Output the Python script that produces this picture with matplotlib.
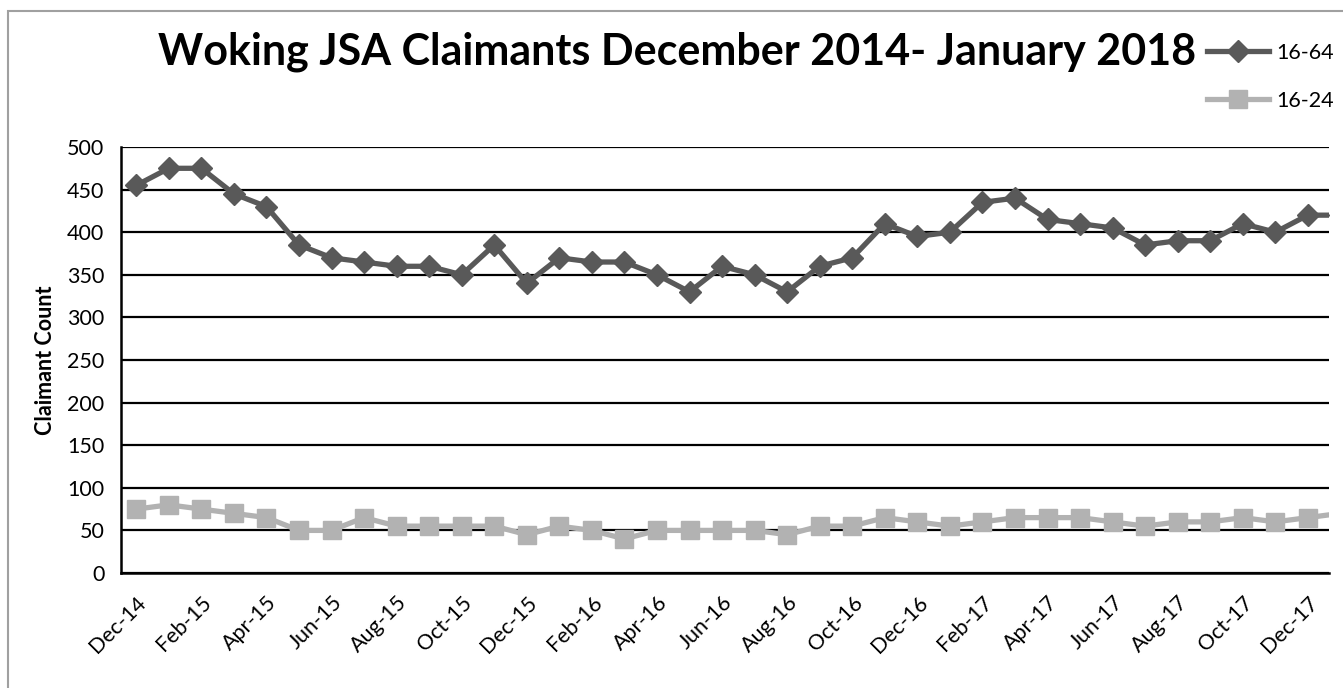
import matplotlib
matplotlib.use('Agg')
import matplotlib.pyplot as plt
from matplotlib.patches import Rectangle
from matplotlib.lines import Line2D

plt.rcParams['font.family'] = ['Lato', 'DejaVu Sans']

# months Dec-14 .. Jan-18
months = ['Dec-14', 'Jan-15', 'Feb-15', 'Mar-15', 'Apr-15', 'May-15', 'Jun-15', 'Jul-15',
          'Aug-15', 'Sep-15', 'Oct-15', 'Nov-15', 'Dec-15', 'Jan-16', 'Feb-16', 'Mar-16',
          'Apr-16', 'May-16', 'Jun-16', 'Jul-16', 'Aug-16', 'Sep-16', 'Oct-16', 'Nov-16',
          'Dec-16', 'Jan-17', 'Feb-17', 'Mar-17', 'Apr-17', 'May-17', 'Jun-17', 'Jul-17',
          'Aug-17', 'Sep-17', 'Oct-17', 'Nov-17', 'Dec-17', 'Jan-18']

age_16_64 = [455, 475, 475, 445, 430, 385, 370, 365, 360, 360, 350, 385, 340, 370, 365, 365,
             350, 330, 360, 350, 330, 360, 370, 410, 395, 400, 435, 440, 415, 410, 405, 385,
             390, 390, 410, 400, 420, 420]
age_16_24 = [75, 80, 75, 70, 65, 50, 50, 65, 55, 55, 55, 55, 45, 55, 50, 40,
             50, 50, 50, 50, 45, 55, 55, 65, 60, 55, 60, 65, 65, 65, 60, 55,
             60, 60, 65, 60, 65, 70]

W, H = 1343, 688
fig = plt.figure(figsize=(W / 100, H / 100), dpi=100)

# outer chart frame (cropped on the right and bottom)
fig.patches.append(Rectangle((8 / W, -0.1), 1.2, (H - 11) / H + 0.1, transform=fig.transFigure,
                             fill=False, edgecolor='#a0a0a0', linewidth=1.5))

ax = fig.add_axes([121 / W, (H - 573) / H, (1329 - 121) / W, (573 - 147) / H])

x = list(range(len(months)))
ax.plot(x, age_16_64, color='#595959', linewidth=3.8, marker='D', markersize=11, label='16-64')
ax.plot(x, age_16_24, color='#b2b2b2', linewidth=3.8, marker='s', markersize=13, label='16-24')

ax.set_ylim(0, 500)
ax.set_xlim(-0.47, 36.65)
ax.set_yticks(range(0, 501, 50))
ax.yaxis.grid(True, color='black', linewidth=1.6)
ax.set_axisbelow(True)
ax.set_xticks(x[::2])
ax.set_xticklabels(months[::2], rotation=45, ha='right', rotation_mode='anchor', fontsize=15.5)
ax.tick_params(axis='y', labelsize=15.5, length=0, pad=12)
ax.tick_params(axis='x', length=0, pad=14)
for s in ['top', 'right']:
    ax.spines[s].set_visible(False)
ax.spines['left'].set_linewidth(1.8)
ax.spines['bottom'].set_linewidth(1.8)

ax.set_ylabel('Claimant Count', fontsize=15.5, fontweight='bold', labelpad=8)

fig.text(677 / W, 1 - 52 / H, 'Woking JSA Claimants December 2014- January 2018',
         fontsize=31, fontweight='bold', ha='center', va='center')

handles = [Line2D([], [], color='#595959', linewidth=3.8, marker='D', markersize=11),
           Line2D([], [], color='#b2b2b2', linewidth=3.8, marker='s', markersize=13)]
fig.legend(handles, ['16-64', '16-24'], loc='upper left', bbox_to_anchor=(1196 / W, 1 - 32 / H),
           frameon=False, fontsize=15.5, handlelength=2.9, handletextpad=0.35, labelspacing=1.3,
           borderpad=0)

fig.savefig('out.png', dpi=100)
